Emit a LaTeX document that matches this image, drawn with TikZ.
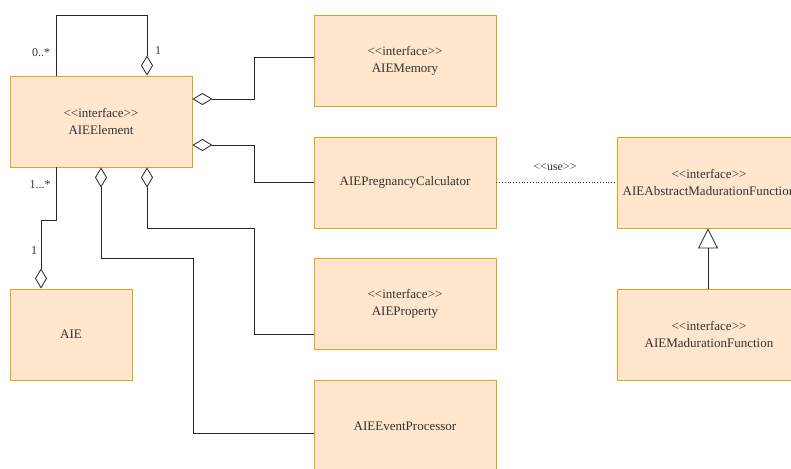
\documentclass[tikz,border=0pt]{standalone}
\usepackage{fontspec}
\setmainfont{Liberation Serif}[Ligatures=TeXOff]
\usetikzlibrary{arrows.meta}
\definecolor{boxfill}{HTML}{FFE6CC}
\definecolor{boxline}{HTML}{E0A21A}
\definecolor{txt}{HTML}{333333}
\begin{document}
\begin{tikzpicture}[x=1pt,y=-1pt,
  cls/.style={draw=boxline,fill=boxfill,line width=0.9pt,minimum width=182pt,minimum height=91pt,
    inner sep=0pt,align=center,text=txt,font=\fontsize{13}{17}\selectfont,anchor=center},
  conn/.style={line width=0.8pt,draw=black!85},
  agg/.style={conn,{Diamond[open,length=20pt,width=12pt,line width=0.8pt]}-},
  gen/.style={conn,-{Triangle[open,length=20pt,width=20pt,line width=0.8pt]}},
  lbl/.style={text=txt,font=\fontsize{12}{14}\selectfont,inner sep=0pt}]
\useasboundingbox[fill=white] (0,0) rectangle (791,468);
\newcommand{\ifc}{<{}<interface>{}>}
\node[cls] (el) at (101,121.5) {\ifc\\AIEElement};
\node[cls] (mem) at (405,60.5) {\ifc\\AIEMemory};
\node[cls] (preg) at (405,182.5) {AIEPregnancyCalculator};
\node[cls] (prop) at (405,303.5) {\ifc\\AIEProperty};
\node[cls] (ev) at (405,426) {AIEEventProcessor};
\node[cls,minimum width=122pt] (aie) at (71,334.5) {AIE};
\node[cls,minimum width=184pt] (abs) at (709,182.5) {\ifc\\AIEAbstractMadurationFunction};
\node[cls,minimum width=184pt] (mad) at (709,334.5) {\ifc\\AIEMadurationFunction};
% self loop
\draw[agg] ([xshift=46pt]el.north) |- (56,15) coordinate (lc) -- ([xshift=-45pt]el.north);
\node[lbl] (l0) at (41,53) {0..*};
\node[lbl] (l1) at (158,51) {1};
% memory
\draw[agg] ([yshift=22.5pt]el.east) -| (254,57) -- ([yshift=3.5pt]mem.west);
% pregnancy
\draw[agg] ([yshift=-23.5pt]el.east) -| (254,182) -- (preg.west |- 0,182);
% property
\draw[agg] ([xshift=46pt]el.south) |- (254,228) |- ([yshift=-30.5pt]prop.west);
% event processor
\draw[agg] (el.south) |- (193,258) |- ([yshift=-7pt]ev.west);
% AIE
\draw[conn] ([xshift=-45pt]el.south) |- (41,220) coordinate (ac);
\draw[agg] (aie.north -| 41,0) -- (ac);
\node[lbl] (l2) at (40,185) {1...*};
\node[lbl] (l3) at (34,251) {1};
% use
\draw[conn,dotted,line width=0.7pt] (preg.east) -- (abs.west);
\node[lbl] (use) at (555,167) {<{}<use>{}>};
% generalization
\draw[gen] (mad.north -| 708,0) -- (abs.south -| 708,0);
\end{tikzpicture}
\end{document}
